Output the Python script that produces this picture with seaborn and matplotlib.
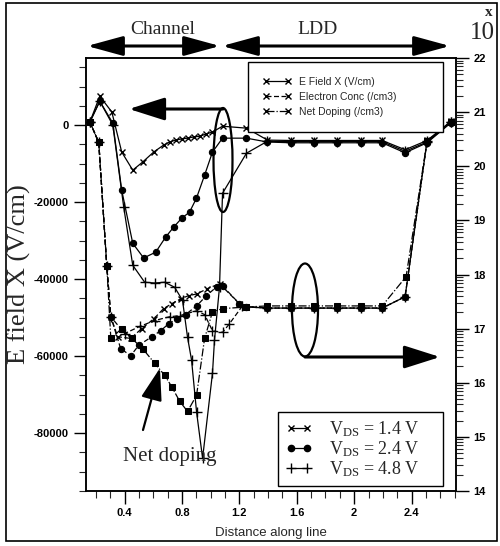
import numpy as np
import pandas as pd
import matplotlib
matplotlib.use('Agg')
import matplotlib.pyplot as plt
import seaborn as sns
from matplotlib.lines import Line2D
from matplotlib.patches import Ellipse, FancyArrowPatch, Rectangle
from matplotlib.ticker import MultipleLocator, FixedLocator, FuncFormatter, LogLocator, NullFormatter

# ---- data ----
# E field X (V/cm), left axis
x_e14 = [0.157, 0.226, 0.31, 0.379, 0.456, 0.525, 0.602, 0.671, 0.713, 0.755, 0.797, 0.838, 0.88, 0.922, 0.97,
         1.012, 1.082, 1.249, 1.395, 1.562, 1.722, 1.882, 2.049, 2.195, 2.355, 2.508, 2.675]
e_14 = [780, 7500, 3400, -7000, -11700, -9600, -7000, -5200, -4400, -3900, -3600, -3400, -3100, -2900, -2300,
        -1800, -300, -800, -3900, -4000, -4000, -4000, -4000, -4000, -6400, -4000, 1000]

x_e24 = [0.157, 0.226, 0.317, 0.379, 0.456, 0.532, 0.616, 0.685, 0.741, 0.797, 0.852, 0.90, 0.957, 1.012,
         1.082, 1.249, 1.395, 1.562, 1.722, 1.882, 2.049, 2.195, 2.355, 2.508, 2.675]
e_24 = [780, 6200, 500, -16900, -30700, -34500, -33000, -29100, -26500, -24200, -22600, -19000, -13000, -7000,
        -3400, -3400, -4400, -4600, -4600, -4600, -4600, -4600, -7200, -4600, 600]

x_e48 = [0.157, 0.226, 0.317, 0.393, 0.456, 0.539, 0.609, 0.678, 0.748, 0.803, 0.838, 0.866, 0.901, 0.943,
         1.012, 1.026, 1.061, 1.082, 1.249, 1.395, 1.562, 1.722, 1.882, 2.049, 2.195, 2.355, 2.508, 2.675]
e_48 = [780, 6200, 0, -21300, -36400, -40800, -41000, -40800, -42100, -45500, -55100, -61000, -74500, -86500,
        -64400, -55800, -42000, -17700, -7300, -4200, -4300, -4300, -4300, -4300, -4300, -6800, -4400, 800]

# Electron conc (/cm3), right axis, log10 exponent
x_c14 = [0.157, 0.219, 0.275, 0.303, 0.351, 0.442, 0.518, 0.602, 0.671, 0.727, 0.790, 0.845, 0.901, 0.977,
         1.061, 1.20, 1.249, 1.395, 1.562, 1.722, 1.882, 2.049, 2.195, 2.355, 2.508, 2.675]
c_14 = [20.82, 20.44, 18.16, 17.22, 16.85, 16.82, 17.0, 17.18, 17.37, 17.46, 17.55, 17.61, 17.64, 17.74,
        17.83, 17.46, 17.40, 17.38, 17.38, 17.38, 17.38, 17.38, 17.38, 17.59, 20.46, 20.82]

x_c24 = [0.157, 0.219, 0.275, 0.303, 0.372, 0.442, 0.497, 0.588, 0.650, 0.706, 0.762, 0.824, 0.901, 0.970,
         1.040, 1.082, 1.20, 1.249, 1.395, 1.562, 1.722, 1.882, 2.049, 2.195, 2.355, 2.508, 2.675]
c_24 = [20.82, 20.44, 18.16, 17.22, 16.63, 16.50, 16.69, 16.85, 16.96, 17.09, 17.18, 17.26, 17.42, 17.61,
        17.77, 17.79, 17.46, 17.40, 17.38, 17.38, 17.38, 17.38, 17.38, 17.38, 17.59, 20.46, 20.82]

x_c48 = [0.157, 0.219, 0.275, 0.303, 0.40, 0.504, 0.609, 0.713, 0.783, 0.901, 0.957, 1.012, 1.082, 1.130,
         1.221, 1.395, 1.562, 1.722, 1.882, 2.049, 2.195, 2.355, 2.508, 2.675]
c_48 = [20.82, 20.44, 18.16, 17.22, 16.91, 17.04, 17.15, 17.22, 17.24, 17.33, 17.26, 16.96, 16.93, 17.09,
        17.42, 17.38, 17.38, 17.38, 17.38, 17.38, 17.38, 17.59, 20.46, 20.82]

# Net doping (/cm3), right axis, log10 exponent
x_nd = [0.157, 0.219, 0.275, 0.303, 0.379, 0.449, 0.525, 0.609, 0.678, 0.727, 0.783, 0.838, 0.901, 0.957,
        1.012, 1.082, 1.249, 1.395, 1.562, 1.722, 1.882, 2.049, 2.195, 2.362, 2.508, 2.675]
nd = [20.82, 20.44, 18.16, 16.82, 17.0, 16.82, 16.63, 16.36, 16.14, 15.93, 15.66, 15.47, 15.77, 16.82,
      17.31, 17.37, 17.40, 17.42, 17.42, 17.42, 17.42, 17.42, 17.42, 17.96, 20.46, 20.82]

vds_labels = ['1.4', '2.4', '4.8']
x_ticks = [0.4, 0.8, 1.2, 1.6, 2.0, 2.4]
y_ticks = [0, -20000, -40000, -60000, -80000]

sns.set_style('ticks')
plt.rcParams['font.family'] = ['Liberation Sans', 'DejaVu Sans']
plt.rcParams['mathtext.fontset'] = 'custom'
plt.rcParams['mathtext.rm'] = 'Liberation Serif'
plt.rcParams['mathtext.it'] = 'Liberation Serif:italic'

fig = plt.figure(figsize=(5.0, 5.46), dpi=100)
ax = fig.add_axes([0.172, 0.1007, 0.74, 0.793])
ax2 = ax.twinx()
ax2.set_yscale('log')

mk = {'1.4': dict(marker='x', ms=5, mew=1.0),
      '2.4': dict(marker='o', ms=4.5, mew=0.8),
      '4.8': dict(marker='+', ms=6.5, mew=1.0)}

for v, xs, ys in zip(vds_labels, [x_e14, x_e24, x_e48], [e_14, e_24, e_48]):
    sns.lineplot(x=xs, y=ys, ax=ax, color='k', lw=0.9, mec='k', mfc='k', **mk[v])

for v, xs, ys in zip(vds_labels, [x_c14, x_c24, x_c48], [c_14, c_24, c_48]):
    sns.lineplot(x=xs, y=10 ** np.array(ys), ax=ax2, color='k', lw=0.9, linestyle=(0, (4, 2)),
                 mec='k', mfc='k', **mk[v])

sns.lineplot(x=x_nd, y=10 ** np.array(nd), ax=ax2, color='k', lw=0.9, linestyle='-.',
             marker='s', ms=4.5, mec='k', mfc='k')

# axes
ax.set_xlim(0.13, 2.71)
ax.set_ylim(-95000, 17400)
ax2.set_ylim(1e14, 1e22)
ax.xaxis.set_major_locator(FixedLocator(x_ticks))
ax.xaxis.set_minor_locator(MultipleLocator(0.1))
ax.xaxis.set_major_formatter(FuncFormatter(lambda v, p: f'{v:g}'))
ax.yaxis.set_major_locator(FixedLocator(y_ticks))
ax.yaxis.set_minor_locator(MultipleLocator(5000))
ax.yaxis.set_major_formatter(FuncFormatter(lambda v, p: f'{v:.0f}'))
ax2.yaxis.set_major_locator(LogLocator(base=10, numticks=20))
ax2.yaxis.set_minor_locator(LogLocator(base=10, subs=np.arange(2, 10), numticks=20))
ax2.yaxis.set_major_formatter(FuncFormatter(lambda v, p: f'{int(round(np.log10(v)))}'))
ax2.yaxis.set_minor_formatter(NullFormatter())

for a in (ax, ax2):
    a.tick_params(which='major', direction='out', length=9, width=1.0, labelsize=8, colors='k')
    a.tick_params(which='minor', direction='out', length=5, width=0.8)
    for s in a.spines.values():
        s.set_linewidth(1.1)
        s.set_color('k')
    a.set_xlabel('')
    a.set_ylabel('')
for lab in ax.get_xticklabels() + ax.get_yticklabels() + ax2.get_yticklabels():
    lab.set_fontweight('bold')

ax.set_ylabel('E field X (V/cm)', family='Liberation Serif', fontsize=19, labelpad=2)
ax.set_xlabel('Distance along line', fontsize=9.5, labelpad=6)

# legends
h1 = [Line2D([], [], color='k', lw=0.9, marker='x', ms=4, mec='k'),
      Line2D([], [], color='k', lw=0.9, ls=(0, (4, 2)), marker='x', ms=4, mec='k'),
      Line2D([], [], color='k', lw=0.9, ls='-.', marker='x', ms=4, mec='k')]
leg1 = ax2.legend(h1, ['E Field X (V/cm)', 'Electron Conc (/cm3)', 'Net Doping (/cm3)'],
                  loc='upper left', bbox_to_anchor=(0.438, 0.991, 0.527, 0), mode='expand',
                  borderaxespad=0, prop=dict(family='Liberation Sans', size=7.5), numpoints=2,
                  handlelength=2.7, handletextpad=0.8, borderpad=1.4, labelspacing=0.5,
                  fancybox=False, edgecolor='k', framealpha=1)
leg1.get_frame().set_linewidth(1.0)
ax2.add_artist(leg1)

h2 = [Line2D([], [], color='k', lw=0.9, marker='x', ms=5, mec='k', mew=1.0),
      Line2D([], [], color='k', lw=0.9, marker='o', ms=4.5, mec='k'),
      Line2D([], [], color='k', lw=0.9, marker='+', ms=6.5, mec='k', mew=1.0)]
leg2 = ax2.legend(h2, [r'V$_{\mathrm{DS}}$ = ' + v + ' V' for v in vds_labels],
                  loc='lower left', bbox_to_anchor=(0.519, 0.0115, 0.446, 0), mode='expand',
                  borderaxespad=0, prop=dict(family='Liberation Serif', size=13), numpoints=2,
                  handlelength=1.5, handletextpad=0.9, borderpad=0.4, labelspacing=0.0,
                  fancybox=False, edgecolor='k', framealpha=1)
leg2.get_frame().set_linewidth(1.0)


# annotations in figure pixels (top-left origin)
def P(px, py):
    return (px / 500, 1 - py / 546)


def arrow(a, b, style, hl, hw, lw):
    fig.patches.append(FancyArrowPatch(P(*a), P(*b), transform=fig.transFigure, figure=fig,
                                       arrowstyle=f'{style},head_length={hl},head_width={hw}',
                                       mutation_scale=1, shrinkA=0, shrinkB=0, lw=lw, color='k'))


arrow((87, 46), (220, 46), '<|-|>', 22, 6, 2.2)
arrow((222, 46), (450, 46), '<|-|>', 22, 6, 2.2)
arrow((223, 109), (129, 109), '-|>', 22, 7, 2.2)
arrow((305, 357), (440, 357), '-|>', 22, 7, 2.2)
arrow((143, 430), (160, 368), '-|>', 20, 6.5, 1.6)

for (cx, cy, w, h) in [(223, 160, 19, 104), (305, 310, 26, 93)]:
    fig.patches.append(Ellipse(P(cx, cy), w / 500, h / 546, transform=fig.transFigure, figure=fig,
                               fill=False, lw=1.6, ec='k'))

fig.text(*P(163, 30), 'Channel', family='Liberation Serif', fontsize=14, ha='center', va='center')
fig.text(*P(318, 30), 'LDD', family='Liberation Serif', fontsize=14, ha='center', va='center')
fig.text(*P(489, 12), 'x', family='Liberation Serif', fontsize=11, fontweight='bold', ha='center', va='center')
fig.text(*P(482, 33), '10', family='Liberation Serif', fontsize=18, ha='center', va='center')
fig.text(*P(170, 456), 'Net doping', family='Liberation Serif', fontsize=15, ha='center', va='center')

fig.patches.append(Rectangle(P(6, 541), 491 / 500, 538 / 546, transform=fig.transFigure, figure=fig,
                             fill=False, lw=1.2, ec='k'))

fig.savefig('out.png', dpi=100)
